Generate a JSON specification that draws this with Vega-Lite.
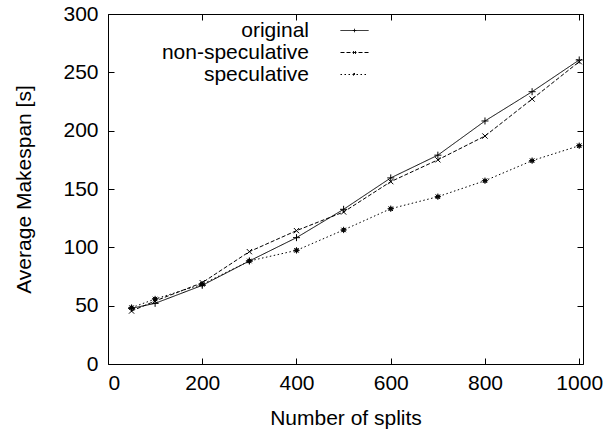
{
  "$schema": "https://vega.github.io/schema/vega-lite/v6.json",
  "width": 475,
  "height": 350,
  "autosize": {"type": "none"},
  "padding": {"left": 108, "top": 14, "right": 25, "bottom": 70},
  "background": "white",
  "config": {
    "font": "Liberation Sans",
    "view": {"stroke": "black", "strokeWidth": 1},
    "axis": {
      "grid": false,
      "domain": false,
      "labelFont": "Liberation Sans",
      "labelFontSize": 21,
      "labelColor": "black",
      "titleFont": "Liberation Sans",
      "titleFontSize": 21,
      "titleFontWeight": "normal",
      "titleColor": "black",
      "tickColor": "black",
      "tickSize": -6,
      "tickWidth": 1
    }
  },
  "resolve": {"axis": {"x": "independent", "y": "independent"}},
  "data": {
    "values": [
      {"splits": 50, "series": "original", "makespan": 47.7},
      {"splits": 100, "series": "original", "makespan": 52},
      {"splits": 200, "series": "original", "makespan": 67.4},
      {"splits": 300, "series": "original", "makespan": 88.3},
      {"splits": 400, "series": "original", "makespan": 108.3},
      {"splits": 500, "series": "original", "makespan": 132.6},
      {"splits": 600, "series": "original", "makespan": 159.5},
      {"splits": 700, "series": "original", "makespan": 179},
      {"splits": 800, "series": "original", "makespan": 208.3},
      {"splits": 900, "series": "original", "makespan": 233.4},
      {"splits": 1000, "series": "original", "makespan": 260.6},
      {"splits": 50, "series": "non-speculative", "makespan": 45.4},
      {"splits": 100, "series": "non-speculative", "makespan": 54},
      {"splits": 200, "series": "non-speculative", "makespan": 69.7},
      {"splits": 300, "series": "non-speculative", "makespan": 96.3},
      {"splits": 400, "series": "non-speculative", "makespan": 114.3},
      {"splits": 500, "series": "non-speculative", "makespan": 130.3},
      {"splits": 600, "series": "non-speculative", "makespan": 156.3},
      {"splits": 700, "series": "non-speculative", "makespan": 175},
      {"splits": 800, "series": "non-speculative", "makespan": 195.4},
      {"splits": 900, "series": "non-speculative", "makespan": 227.1},
      {"splits": 1000, "series": "non-speculative", "makespan": 259.1},
      {"splits": 50, "series": "speculative", "makespan": 48.3},
      {"splits": 100, "series": "speculative", "makespan": 55.7},
      {"splits": 200, "series": "speculative", "makespan": 68.3},
      {"splits": 300, "series": "speculative", "makespan": 88.3},
      {"splits": 400, "series": "speculative", "makespan": 97.4},
      {"splits": 500, "series": "speculative", "makespan": 114.9},
      {"splits": 600, "series": "speculative", "makespan": 133.1},
      {"splits": 700, "series": "speculative", "makespan": 143.4},
      {"splits": 800, "series": "speculative", "makespan": 157.1},
      {"splits": 900, "series": "speculative", "makespan": 174.3},
      {"splits": 1000, "series": "speculative", "makespan": 187.1}
    ]
  },
  "layer": [
    {
      "mark": {"type": "line", "color": "black", "strokeWidth": 1},
      "encoding": {
        "x": {
          "field": "splits", "type": "quantitative",
          "scale": {"domain": [0, 1008], "nice": false, "zero": false},
          "axis": {"orient": "bottom", "format": "d", "values": [0, 200, 400, 600, 800, 1000], "title": "Number of splits", "labelPadding": 14, "titlePadding": 14}
        },
        "y": {
          "field": "makespan", "type": "quantitative",
          "scale": {"domain": [0, 300], "nice": false},
          "axis": {"orient": "left", "values": [0, 50, 100, 150, 200, 250, 300], "title": "Average Makespan [s]", "labelPadding": 16, "titlePadding": 28}
        },
        "strokeDash": {
          "field": "series", "type": "nominal",
          "scale": {"domain": ["original", "non-speculative", "speculative"], "range": [[1, 0], [4, 2], [1.5, 2.5]]},
          "legend": {
            "orient": "none", "legendX": 236, "legendY": 6, "title": null,
            "padding": 0, "rowPadding": 0, "symbolSize": 196, "symbolStrokeWidth": 1,
            "symbolStrokeColor": "black", "labelAlign": "right", "labelOffset": -56,
            "labelFontSize": 21, "labelFont": "Liberation Sans", "labelColor": "black", "labelLimit": 0,
            "encode": {
              "symbols": {
                "update": {
                  "shape": {"signal": "datum.value === 'original' ? 'M-2,0L2,0M-0.25,0L0.25,0M0,-0.25L0,0.25' : datum.value === 'non-speculative' ? 'M-2,0L2,0M-0.2,-0.2L0.2,0.2M-0.2,0.2L0.2,-0.2' : 'M-2,0L2,0M-0.22,0L0.22,0M0,-0.22L0,0.22M-0.16,-0.16L0.16,0.16M-0.16,0.16L0.16,-0.16'"}
                }
              }
            }
          }
        }
      }
    },
    {
      "mark": {"type": "point", "filled": false, "stroke": "black", "strokeWidth": 1, "size": 49, "opacity": 1},
      "encoding": {
        "x": {"field": "splits", "type": "quantitative", "axis": null},
        "y": {"field": "makespan", "type": "quantitative", "axis": null},
        "shape": {
          "condition": [
            {"test": "datum.series === 'original'", "value": "M-1,0L1,0M0,-1L0,1"},
            {"test": "datum.series === 'non-speculative'", "value": "M-0.75,-0.75L0.75,0.75M-0.75,0.75L0.75,-0.75"}
          ],
          "value": "M-0.9,0L0.9,0M0,-0.9L0,0.9M-0.65,-0.65L0.65,0.65M-0.65,0.65L0.65,-0.65M-0.4,-0.4L0.4,-0.4L0.4,0.4L-0.4,0.4Z"
        }
      }
    },
    {
      "mark": {"type": "point", "opacity": 0},
      "encoding": {
        "x": {"field": "splits", "type": "quantitative", "axis": {"orient": "top", "labels": false, "title": null, "values": [0, 200, 400, 600, 800, 1000]}},
        "y": {"field": "makespan", "type": "quantitative", "axis": {"orient": "right", "labels": false, "title": null, "values": [0, 50, 100, 150, 200, 250, 300]}}
      }
    }
  ]
}
